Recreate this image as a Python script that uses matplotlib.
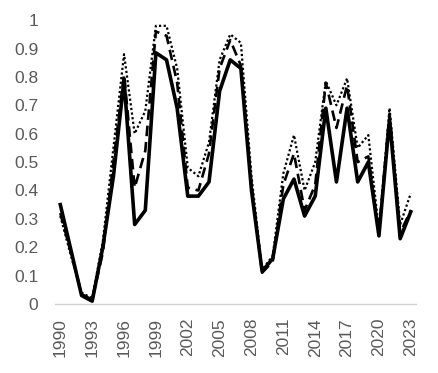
import matplotlib
matplotlib.use("Agg")
import matplotlib.pyplot as plt

plt.rcParams["font.family"] = ["Liberation Sans", "DejaVu Sans"]

years = list(range(1990, 2024))

# solid, thick
series_a = [0.35, 0.19, 0.03, 0.01, 0.20, 0.45, 0.79, 0.28, 0.33, 0.885,
            0.86, 0.69, 0.38, 0.38, 0.43, 0.75, 0.86, 0.83, 0.40, 0.115,
            0.16, 0.37, 0.44, 0.31, 0.38, 0.69, 0.43, 0.69, 0.43, 0.50,
            0.24, 0.65, 0.23, 0.325]
# dashed
series_b = [0.32, 0.18, 0.035, 0.015, 0.18, 0.50, 0.81, 0.41, 0.54, 0.96,
            0.945, 0.78, 0.41, 0.40, 0.53, 0.83, 0.93, 0.84, 0.42, 0.11,
            0.15, 0.42, 0.53, 0.33, 0.42, 0.78, 0.62, 0.77, 0.50, 0.52,
            0.25, 0.67, 0.25, 0.33]
# dotted
series_c = [0.31, 0.17, 0.04, 0.02, 0.22, 0.55, 0.88, 0.60, 0.68, 0.98,
            0.98, 0.83, 0.48, 0.45, 0.57, 0.86, 0.95, 0.92, 0.45, 0.12,
            0.17, 0.46, 0.595, 0.40, 0.50, 0.785, 0.70, 0.795, 0.55, 0.595,
            0.26, 0.69, 0.28, 0.39]

yticks = [0, 0.1, 0.2, 0.3, 0.4, 0.5, 0.6, 0.7, 0.8, 0.9, 1]
ylabels = ["0", "0.1", "0.2", "0.3", "0.4", "0.5", "0.6", "0.7", "0.8", "0.9", "1"]
xticks = years[::3]

fig = plt.figure(figsize=(4.38, 3.73), dpi=100)
ax = fig.add_axes([0.1256, 0.185, 0.8244, 0.761])

ax.plot(years, series_c, color="black", linestyle=(0, (1, 1.1)), linewidth=1.6)
ax.plot(years, series_b, color="black", linestyle=(0, (4, 2.2)), linewidth=1.9)
ax.plot(years, series_a, color="black", linestyle="-", linewidth=2.6)

ax.set_xlim(years[0] - 0.5, years[-1] + 0.5)
ax.set_ylim(0, 1)
ax.set_yticks(yticks)
ax.set_yticklabels(ylabels)
ax.set_xticks(xticks)
ax.set_xticklabels([str(y) for y in xticks], rotation=90)

for side in ["top", "right", "left"]:
    ax.spines[side].set_visible(False)
ax.spines["bottom"].set_color("#d0d0d0")
ax.spines["bottom"].set_linewidth(1.0)

ax.tick_params(axis="y", length=0, pad=12, labelsize=12.5, labelcolor="#595959")
ax.tick_params(axis="x", length=0, pad=10, labelsize=12.5, labelcolor="#595959")

fig.savefig("out.png", dpi=100)
